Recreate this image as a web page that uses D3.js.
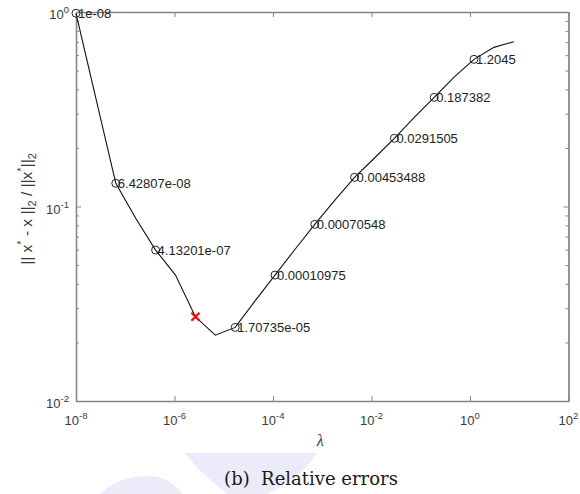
<!DOCTYPE html>
<html>
<head>
<meta charset="utf-8">
<script src="https://cdn.jsdelivr.net/npm/d3@7"></script>
<style>
  html, body { margin: 0; padding: 0; background: #fff; }
  svg { display: block; }
</style>
</head>
<body>
<div id="chart"></div>
<script>
// regularisation parameter (lambda) and the relative error at each one
var lambdaVals = [1e-8, 2.5354e-8, 6.42807e-8, 1.6298e-7, 4.13201e-7, 1.0476e-6,
  2.65606e-6, 6.7342e-6, 1.70735e-5, 4.3288e-5, 1.0975e-4, 2.7826e-4, 7.0548e-4,
  1.7887e-3, 4.53488e-3, 1.1498e-2, 2.91505e-2, 7.3907e-2, 0.187382, 0.47508,
  1.2045, 3.0539, 7.7426];
var errVals = [0.985, 0.36, 0.1316, 0.087, 0.0597, 0.0444, 0.0271, 0.0218, 0.0239,
  0.0327, 0.0444, 0.0601, 0.081, 0.1074, 0.1413, 0.1776, 0.2242, 0.2869, 0.364,
  0.463, 0.571, 0.658, 0.7035];

// circled points and their labels
var markerIdx = [0, 2, 4, 8, 10, 12, 14, 16, 18, 20];
var markerLabels = ["1e-08", "6.42807e-08", "4.13201e-07", "1.70735e-05", "0.00010975",
  "0.00070548", "0.00453488", "0.0291505", "0.187382", "1.2045"];
var bestIdx = 6;

var xTicks = [1e-8, 1e-6, 1e-4, 1e-2, 1, 1e2];
var xTickExp = ["-8", "-6", "-4", "-2", "0", "2"];
var yTicks = [1e-2, 1e-1, 1];
var yTickExp = ["-2", "-1", "0"];
var yMinor = [0.02, 0.03, 0.04, 0.05, 0.06, 0.07, 0.08, 0.09, 0.2, 0.3, 0.4, 0.5, 0.6, 0.7, 0.8, 0.9];

var W = 580, H = 494;
var plotL = 76, plotR = 568.5, plotT = 12, plotB = 401;
var axisCol = "#858585", textCol = "#3a3a3a";
var sans = "'Liberation Sans', Arial, Helvetica, sans-serif";

var svg = d3.select("#chart").append("svg")
  .attr("width", W)
  .attr("height", H);

// faint watermark in the caption area
var wm = svg.append("g").attr("fill", "#ebebfa");
wm.append("path").attr("d", "M185,453 L317,453 C306,470 290,484 267,494 L227,494 C211,481 196,468 185,453 Z");
wm.append("path").attr("d", "M100,494 C114,481 130,476 147,476 C163,476 174,483 183,494 Z");

var x = d3.scaleLog().domain([1e-8, 1e2]).range([plotL, plotR]);
var y = d3.scaleLog().domain([1e-2, 1]).range([plotB, plotT]);

// axes: ticks point inwards, labels drawn separately
function styleAxis(g) {
  g.selectAll("path.domain").attr("stroke", axisCol).attr("stroke-width", 1.3);
  g.selectAll(".tick line").attr("stroke", axisCol);
  g.selectAll(".tick text").remove();
}

svg.append("g").attr("transform", "translate(0," + plotB + ")")
  .call(d3.axisBottom(x).tickValues(xTicks).tickSizeInner(-5).tickSizeOuter(0).tickFormat(""))
  .call(styleAxis);
svg.append("g").attr("transform", "translate(0," + plotT + ")")
  .call(d3.axisTop(x).tickValues(xTicks).tickSizeInner(-5).tickSizeOuter(0).tickFormat(""))
  .call(styleAxis);
svg.append("g").attr("transform", "translate(" + plotL + ",0)")
  .call(d3.axisLeft(y).tickValues(yTicks).tickSizeInner(-5).tickSizeOuter(0).tickFormat(""))
  .call(styleAxis);
svg.append("g").attr("transform", "translate(" + plotR + ",0)")
  .call(d3.axisRight(y).tickValues(yTicks).tickSizeInner(-5).tickSizeOuter(0).tickFormat(""))
  .call(styleAxis);
svg.append("g").attr("transform", "translate(" + plotL + ",0)")
  .call(d3.axisLeft(y).tickValues(yMinor).tickSizeInner(-3).tickSizeOuter(0).tickFormat(""))
  .call(styleAxis);
svg.append("g").attr("transform", "translate(" + plotR + ",0)")
  .call(d3.axisRight(y).tickValues(yMinor).tickSizeInner(-3).tickSizeOuter(0).tickFormat(""))
  .call(styleAxis);

// power-of-ten tick labels
function powLabel(sel, exps) {
  sel.append("tspan").text("10");
  sel.append("tspan").attr("dy", -6).attr("font-size", 9.5).text(function(d, i) { return exps[i]; });
}

svg.append("g").selectAll("text").data(xTicks).enter().append("text")
  .attr("x", function(d) { return x(d); })
  .attr("y", plotB + 24)
  .attr("text-anchor", "middle")
  .attr("font-family", sans).attr("font-size", 13).attr("fill", textCol)
  .call(powLabel, xTickExp);

svg.append("g").selectAll("text").data(yTicks).enter().append("text")
  .attr("x", plotL - 7)
  .attr("y", function(d) { return y(d) + 7; })
  .attr("text-anchor", "end")
  .attr("font-family", sans).attr("font-size", 13).attr("fill", textCol)
  .call(powLabel, yTickExp);

// error curve
var pts = lambdaVals.map(function(l, i) { return [l, errVals[i]]; });
var line = d3.line()
  .x(function(d) { return x(d[0]); })
  .y(function(d) { return y(d[1]); });

svg.append("path")
  .datum(pts)
  .attr("d", line)
  .attr("fill", "none")
  .attr("stroke", "#111")
  .attr("stroke-width", 1.1);

// circled samples with their lambda
var marks = svg.append("g").selectAll("g").data(markerIdx).enter().append("g")
  .attr("transform", function(d) { return "translate(" + x(lambdaVals[d]) + "," + y(errVals[d]) + ")"; });

marks.append("circle")
  .attr("r", 4)
  .attr("fill", "none")
  .attr("stroke", "#222")
  .attr("stroke-width", 1);

marks.append("text")
  .attr("x", 2)
  .attr("y", 4.5)
  .attr("font-family", sans).attr("font-size", 13).attr("fill", "#222")
  .text(function(d, i) { return markerLabels[i]; });

// chosen lambda
var bx = x(lambdaVals[bestIdx]), by = y(errVals[bestIdx]);
svg.append("path")
  .attr("d", "M" + (bx - 4) + "," + (by - 4) + "L" + (bx + 4) + "," + (by + 4) +
    "M" + (bx - 4) + "," + (by + 4) + "L" + (bx + 4) + "," + (by - 4))
  .attr("stroke", "#ff0000")
  .attr("stroke-width", 2);

// axis titles
svg.append("text")
  .attr("x", (plotL + plotR) / 2 - 2)
  .attr("y", plotB + 45)
  .attr("text-anchor", "middle")
  .attr("font-family", "'Liberation Serif', serif").attr("font-style", "italic")
  .attr("font-size", 16).attr("fill", textCol)
  .text("λ");

var yl = svg.append("text")
  .attr("transform", "translate(32,209) rotate(-90)")
  .attr("text-anchor", "middle")
  .attr("font-family", sans).attr("font-size", 15.5).attr("fill", textCol);
yl.append("tspan").text("|| x");
yl.append("tspan").attr("dy", -7).attr("font-size", 11).text("*");
yl.append("tspan").attr("dy", 7).text(" - x ||");
yl.append("tspan").attr("dy", 4).attr("font-size", 11).text("2");
yl.append("tspan").attr("dy", -4).text(" / ||x");
yl.append("tspan").attr("dy", -7).attr("font-size", 11).text("*");
yl.append("tspan").attr("dy", 7).text("||");
yl.append("tspan").attr("dy", 4).attr("font-size", 11).text("2");

// caption
svg.append("text")
  .attr("x", 311)
  .attr("y", 485)
  .attr("text-anchor", "middle")
  .attr("font-family", "'DejaVu Serif', serif")
  .attr("font-size", 18)
  .attr("fill", "#1a1a1a")
  .attr("xml:space", "preserve")
  .text("(b)  Relative errors");
</script>
</body>
</html>
